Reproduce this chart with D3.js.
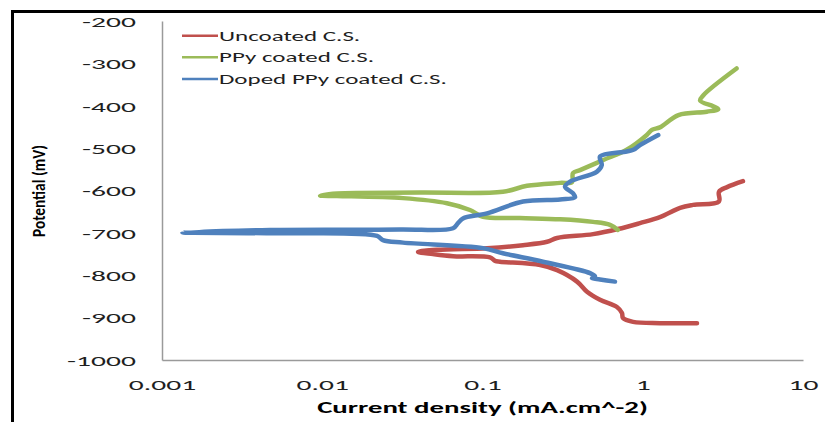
<!DOCTYPE html>
<html><head><meta charset="utf-8">
<script src="https://cdn.jsdelivr.net/npm/d3@7"></script>
<style>html,body{margin:0;padding:0;background:#fff;overflow:hidden}</style>
</head><body><svg id="c" width="825" height="422"></svg>
<script>
// ---- data ----
const seriesNames = ["Uncoated C.S.", "PPy coated C.S.", "Doped PPy coated C.S."];
const seriesColors = ["#C0504D", "#9BBB59", "#4F81BD"];

const uncoatedI = [2.18, 1.28, 0.87, 0.753, 0.742, 0.69, 0.541, 0.449, 0.389, 0.292, 0.229, 0.1286, 0.1197, 0.1114, 0.0655, 0.049, 0.0396,
                   0.052, 0.1067, 0.179, 0.253, 0.292, 0.49, 0.70, 0.961, 1.28, 1.71, 2.06, 2.99, 2.99, 3.36, 4.22];
const uncoatedE = [-913, -913, -910, -901, -889, -875, -858, -839, -815, -788, -776, -768, -766, -758, -755, -750, -745,
                   -740, -736, -729, -721, -712, -703, -691, -677, -663, -641, -634, -626, -603, -592, -578];

const ppyI = [0.70, 0.625, 0.49, 0.305, 0.171, 0.1007, 0.0835, 0.060, 0.0319, 0.01236, 0.00969,
              0.0124, 0.0407, 0.134, 0.1895, 0.305, 0.362, 0.367, 0.406, 0.567, 0.794, 1.06, 1.14, 1.28, 1.67, 2.51, 2.96, 2.75, 2.28, 2.39, 3.85];
const ppyE = [-693, -681, -674, -668, -665, -662, -646, -630, -618, -613, -612,
              -607, -605, -603, -589, -582, -580, -559, -552, -528, -504, -469, -457, -451, -422, -414, -408, -401, -388, -375, -312];

const dopedI = [0.671, 0.541, 0.482, 0.504, 0.469, 0.2384, 0.134, 0.1007, 0.0319, 0.0239, 0.022, 0.00472, 0.00134,
                0.00472, 0.0306, 0.0655, 0.0703, 0.0755, 0.1067, 0.179, 0.305, 0.378, 0.368, 0.327, 0.352, 0.516, 0.555, 0.541, 0.794, 0.874, 0.961, 1.25];
const dopedE = [-815, -810, -807, -803, -795, -768, -748, -736, -723, -717, -707, -701, -699,
                -693, -692, -689, -677, -666, -654, -626, -621, -616, -607, -591, -579, -556, -540, -520, -508, -504, -493, -469];

const xTickValues = [0.001, 0.01, 0.1, 1, 10];
const yTickValues = [-1000, -900, -800, -700, -600, -500, -400, -300, -200];
const xTitle = "Current density (mA.cm^-2)";
const yTitle = "Potential (mV)";

// ---- layout ----
const FONT = "Carlito, Lato, 'Open Sans', sans-serif";
const plot = {left: 162, right: 803, top: 21, bottom: 360};
const svg = d3.select("#c");

// outer frame (top + left visible)
svg.append("rect").attr("x", 12.5).attr("y", 11.5).attr("width", 900).attr("height", 600)
  .attr("fill", "none").attr("stroke", "#000").attr("stroke-width", 3);

const x = d3.scaleLog().domain([0.001, 10]).range([plot.left, plot.right]);
const y = d3.scaleLinear().domain([-1000, -200]).range([plot.bottom, plot.top]);

function stretch(sel, sx) {
  sel.each(function() {
    const t = d3.select(this);
    const tx = +t.attr("x") || 0, ty = +t.attr("y") || 0;
    t.attr("x", 0).attr("y", 0).attr("transform", `translate(${tx},${ty}) scale(${sx},1)`);
  });
}

// axes
const gx = svg.append("g").attr("transform", `translate(0,${plot.bottom})`)
  .call(d3.axisBottom(x).tickValues(xTickValues).tickFormat(d => String(d)).tickSize(0).tickPadding(0));
const gy = svg.append("g").attr("transform", `translate(${plot.left},0)`)
  .call(d3.axisLeft(y).tickValues(yTickValues).tickFormat(d => String(d)).tickSize(0).tickPadding(0));
[gx, gy].forEach(g => {
  g.select(".domain").attr("stroke", "#9a9a9a").attr("stroke-width", 1.5);
  g.selectAll("text").attr("font-family", FONT).attr("font-size", 15).attr("fill", "#1e1e1e");
});
gx.selectAll("text").attr("y", 25).attr("dy", "0.35em").attr("text-anchor", "middle");
gy.selectAll("text").attr("x", -26).attr("dy", "0.35em").attr("text-anchor", "end");
const probe = gy.selectAll("text").filter(d => d === -1000).node();
const sxTick = 69 / probe.getComputedTextLength();
stretch(gx.selectAll("text"), sxTick);
stretch(gy.selectAll("text"), sxTick);

// series
const series = [
  {I: uncoatedI, E: uncoatedE},
  {I: ppyI, E: ppyE},
  {I: dopedI, E: dopedE}
];
const line = d3.line().x(d => x(d[0])).y(d => y(d[1])).curve(d3.curveCatmullRom.alpha(0.5));
series.forEach((s, i) => {
  const pts = s.I.map((v, k) => [v, s.E[k]]);
  svg.append("path").datum(pts).attr("d", line)
    .attr("fill", "none").attr("stroke", seriesColors[i]).attr("stroke-width", 4.5)
    .attr("stroke-linejoin", "round").attr("stroke-linecap", "round");
});

// legend
const legY = [35.7, 57.3, 79];
const lg = svg.append("g");
seriesNames.forEach((n, i) => {
  lg.append("line").attr("x1", 182).attr("x2", 218).attr("y1", legY[i]).attr("y2", legY[i])
    .attr("stroke", seriesColors[i]).attr("stroke-width", 2.5);
  lg.append("text").attr("class", "lt").attr("x", 219).attr("y", legY[i]).attr("dy", "0.35em")
    .attr("font-family", FONT).attr("font-size", 14).attr("fill", "#1e1e1e").text(n);
});
const lp = lg.selectAll("text.lt").filter((d, i) => i === 2).node();
const sxLeg = 228 / lp.getComputedTextLength();
stretch(lg.selectAll("text.lt"), sxLeg);

// x title
const xt = svg.append("text").attr("x", 482.5).attr("y", 408).attr("dy", "0.35em")
  .attr("text-anchor", "middle").attr("font-family", FONT).attr("font-size", 15)
  .attr("font-weight", "bold").attr("fill", "#000").text(xTitle);
const sxT = 331 / xt.node().getComputedTextLength();
stretch(xt, sxT);

// y title (rotated)
const yt = svg.append("text").attr("text-anchor", "middle").attr("dy", "0.35em")
  .attr("font-family", FONT).attr("font-size", 13.5).attr("font-weight", "bold").attr("fill", "#000")
  .text(yTitle);
yt.attr("textLength", 92).attr("lengthAdjust", "spacingAndGlyphs")
  .attr("transform", "translate(39,191) scale(1.3,1) rotate(-90)");
</script></body></html>
